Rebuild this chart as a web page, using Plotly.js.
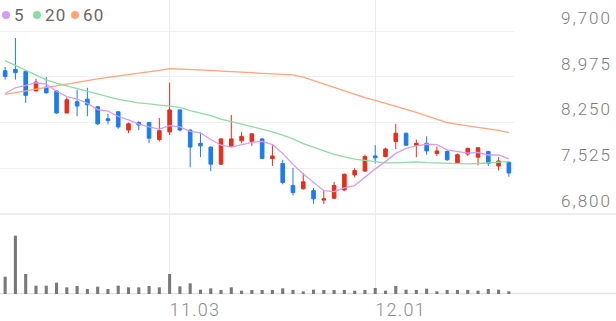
<!DOCTYPE html>
<html>
<head>
<meta charset="utf-8">
<script src="https://cdn.plot.ly/plotly-3.0.1.min.js"></script>
<style>
  html, body { margin: 0; padding: 0; background: #fff; }
  #chart { width: 616px; height: 321px; }
  .ytick text { letter-spacing: 2px; }
  .xtick text { letter-spacing: 1.3px; }
  .annotation-text { letter-spacing: 1.2px; }
</style>
</head>
<body>
<div id="chart"></div>
<script>
const dates = ["2023-10-12","2023-10-13","2023-10-16","2023-10-17","2023-10-18","2023-10-19","2023-10-20","2023-10-23","2023-10-24","2023-10-25",
  "2023-10-26","2023-10-27","2023-10-30","2023-10-31","2023-11-01","2023-11-02","2023-11-03","2023-11-06","2023-11-07","2023-11-08",
  "2023-11-09","2023-11-10","2023-11-13","2023-11-14","2023-11-15","2023-11-16","2023-11-17","2023-11-20","2023-11-21","2023-11-22",
  "2023-11-23","2023-11-24","2023-11-27","2023-11-28","2023-11-29","2023-11-30","2023-12-01","2023-12-04","2023-12-05","2023-12-06",
  "2023-12-07","2023-12-08","2023-12-11","2023-12-12","2023-12-13","2023-12-14","2023-12-15","2023-12-18","2023-12-19","2023-12-20"];

const open  = [9070,9090,9060,8750,8810,8750,8400,8580,8620,8500, 8310,8420,8130,8250,8250,7980,8100,8450,8130,7920, 7860,7590,7870,7960,7950,7990,7680,7600,7250,7200, 7170,7020,7050,7180,7420,7480,7720,7710,7950,8080, 7890,7920,7760,7790,7600,7750,7700,7790,7560,7620];
const high  = [9130,9590,9070,8940,8970,8760,8650,8770,8800,8510, 8390,8430,8250,8270,8260,8320,8880,8460,8140,8100, 7870,8000,8370,8100,8080,8000,7890,7660,7530,7450, 7210,7180,7310,7440,7530,7740,7890,7850,8230,8090, 7980,8030,7870,7810,7760,7850,7860,7800,7700,7630];
const low   = [8930,8930,8560,8740,8710,8390,8400,8350,8350,8210, 8220,8150,8080,8130,7920,7950,8050,8110,7540,7700, 7480,7580,7860,7920,7880,7670,7560,7270,7090,7190, 6960,6960,7040,7170,7380,7470,7600,7700,7830,7880, 7700,7740,7720,7640,7600,7720,7570,7560,7490,7390];
const close = [8980,9040,8680,8890,8720,8400,8610,8510,8530,8230, 8280,8180,8230,8210,8000,8120,8450,8130,7860,7880, 7590,7990,7990,8030,8070,7680,7720,7300,7140,7310, 7040,7040,7250,7430,7490,7710,7690,7830,8080,7890, 7920,7800,7800,7660,7740,7840,7850,7600,7640,7450];

const ma5  = [8710,8800,8840,8880,8860,8745,8660,8625,8555,8455, 8430,8345,8290,8225,8180,8145,8200,8180,8110,8085, 7980,7890,7860,7895,7935,7950,7900,7760,7585,7435, 7305,7170,7155,7215,7250,7385,7515,7630,7760,7840, 7880,7905,7900,7815,7785,7765,7775,7735,7735,7675];
const ma20 = [9230,9155,9075,8995,8925,8875,8830,8790,8750,8700, 8660,8615,8590,8560,8545,8525,8510,8490,8440,8400, 8360,8305,8260,8225,8185,8145,8100,8050,7990,7915, 7855,7800,7745,7705,7670,7650,7625,7610,7610,7615, 7625,7615,7610,7600,7595,7595,7600,7610,7620,7630];
const ma60 = [8695,8725,8755,8780,8805,8830,8860,8890,8915,8940, 8965,8985,9010,9035,9055,9075,9105,9100,9090,9080, 9075,9065,9060,9045,9040,9030,9020,9010,9005,8970, 8915,8860,8805,8750,8700,8645,8600,8555,8510,8465, 8410,8355,8300,8250,8220,8195,8180,8155,8125,8090];
const volume = [520,1750,600,250,250,340,200,240,150,220, 150,250,200,200,240,200,600,230,320,130, 170,120,200,100,120,120,120,170,120,80, 130,120,120,120,100,120,180,100,240,130, 120,160,80,120,120,120,100,150,130,80];

const priceTicks = [6800, 7525, 8250, 8975, 9700];
const dateTickVals = ["2023-11-03", "2023-12-01"];
const dateTickText = ["11.03", "12.01"];
const legendLabels = ["5", "20", "60"];

const C_UP = "#e42f1c", C_DN = "#1b7cf0";
const C_MA5 = "#d49df3", C_MA20 = "#8fdaa5", C_MA60 = "#ffa47c";

const W = 616, H = 321, mL = 0, mR = 102, mT = 0, mB = 27;
const plotW = W - mL - mR, plotH = H - mT - mB;
const priceBottomPx = 214;
const split = (plotH - priceBottomPx) / plotH;
const pxPerUnit = (priceBottomPx - 31) / (9700 - 6800);
const priceTop = 6800 + priceBottomPx / pxPerUnit;

const lineTrace = (y, color) => ({
  type: "scatter", mode: "lines", x: dates, y: y, xaxis: "x", yaxis: "y",
  line: { color: color, width: 1.3 }, hoverinfo: "skip", showlegend: false
});

const traces = [
  lineTrace(ma60, C_MA60),
  lineTrace(ma20, C_MA20),
  lineTrace(ma5, C_MA5),
  {
    type: "candlestick", x: dates, open: open, high: high, low: low, close: close,
    xaxis: "x", yaxis: "y", whiskerwidth: 0,
    increasing: { line: { color: C_UP, width: 1 }, fillcolor: C_UP },
    decreasing: { line: { color: C_DN, width: 1 }, fillcolor: C_DN },
    showlegend: false, hoverinfo: "skip"
  },
  {
    type: "bar", x: dates, y: volume, xaxis: "x", yaxis: "y2",
    marker: { color: "#787878" }, width: 0.3, showlegend: false, hoverinfo: "skip"
  }
];

const fullLine = (ypx, color, w) => ({
  type: "line", xref: "paper", yref: "paper",
  x0: 0, x1: (W - mL) / plotW, y0: 1 - ypx / plotH, y1: 1 - ypx / plotH,
  line: { color: color, width: w }, layer: "below"
});

const legendColors = [C_MA5, C_MA20, C_MA60];
const legendDotPx = [6, 37, 75];
const legendTextPx = [12, 43, 81];
const legendY = 1 - 15 / plotH;

const shapes = [fullLine(priceBottomPx, "#e8e8e8", 1.5), fullLine(293.5, "#e2e2e2", 1.5)];
const annotations = [];
legendLabels.forEach((t, k) => {
  shapes.push({
    type: "circle", xref: "paper", yref: "paper", xsizemode: "pixel", ysizemode: "pixel",
    xanchor: legendDotPx[k] / plotW, yanchor: legendY, x0: -4, x1: 4, y0: -4, y1: 4,
    fillcolor: legendColors[k], line: { width: 0 }
  });
  annotations.push({
    xref: "paper", yref: "paper", x: legendTextPx[k] / plotW, y: legendY,
    xanchor: "left", yanchor: "middle", showarrow: false, text: t,
    font: { family: "Roboto", size: 17, color: "#666666" }
  });
});

const layout = {
  width: W, height: H,
  margin: { l: mL, r: mR, t: mT, b: mB, pad: 0 },
  paper_bgcolor: "#ffffff", plot_bgcolor: "#ffffff",
  showlegend: false, boxgap: 0.5,
  xaxis: {
    type: "category", range: [-0.5, dates.length - 0.5], anchor: "y2",
    rangeslider: { visible: false },
    tickmode: "array", tickvals: dateTickVals, ticktext: dateTickText,
    ticks: "", showgrid: true, gridcolor: "#ececec", gridwidth: 1,
    showline: false, zeroline: false, ticklabelposition: "outside right",
    ticklabelstandoff: 3,
    tickfont: { family: "Roboto", size: 18, color: "#8a8a8a", weight: 300 }
  },
  yaxis: {
    domain: [split, 1], range: [6800, priceTop], side: "right", anchor: "x",
    tickmode: "array", tickvals: priceTicks, tickformat: ",d",
    ticks: "", showgrid: true, gridcolor: "#f0f0f0", gridwidth: 1,
    zeroline: false, showline: false,
    ticklabelshift: -13, ticklabelstandoff: 46,
    tickfont: { family: "Roboto", size: 17, color: "#7a7a7a", weight: 300 }
  },
  yaxis2: {
    domain: [0, split], range: [0, 2400], anchor: "x",
    showgrid: false, showticklabels: false, zeroline: false, showline: false, ticks: ""
  },
  shapes: shapes,
  annotations: annotations
};

Plotly.newPlot("chart", traces, layout, { staticPlot: true, displayModeBar: false });
</script>
</body>
</html>
